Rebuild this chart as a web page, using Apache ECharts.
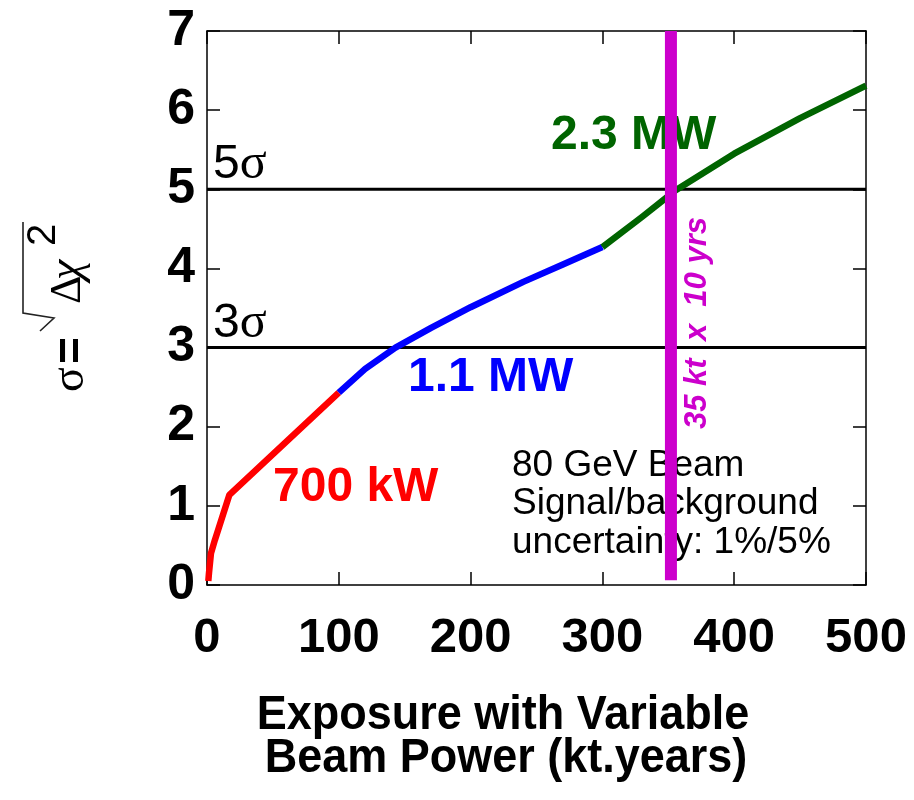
<!DOCTYPE html>
<html>
<head>
<meta charset="utf-8">
<title>Significance vs exposure</title>
<script src="https://cdn.jsdelivr.net/npm/echarts@6/dist/echarts.min.js"></script>
<style>
  html, body { margin: 0; padding: 0; background: #ffffff; }
  #chart { width: 914px; height: 800px; }
</style>
</head>
<body>
<div id="chart"></div>
<script>
// Exposure (kt.years) and significance for each beam-power stage
const redX   = [1, 1.5, 3, 6, 17, 100];
const redY   = [0.05, 0.15, 0.40, 0.57, 1.14, 2.43];
const blueX  = [100, 120, 143, 170, 200, 240, 270, 300];
const blueY  = [2.43, 2.73, 3.0, 3.25, 3.51, 3.83, 4.05, 4.27];
const greenX = [300, 330, 355, 400, 450, 500];
const greenY = [4.27, 4.65, 4.98, 5.45, 5.9, 6.31];

// Reference significance levels and the 35 kt x 10 yr exposure
const sigmaLevels = [5, 3];
const exposureMark = 352;
const exposureRange = [0.06, 7];

// Axis ticks
const xTicks = { min: 0, max: 500, step: 100 };
const yTicks = { min: 0, max: 7, step: 1 };

const SANS = '"Liberation Sans", Arial, Helvetica, sans-serif';
const SERIF = '"Liberation Serif", "Times New Roman", serif';

const zip = (xs, ys) => xs.map((x, i) => [x, ys[i]]);

const chart = echarts.init(document.getElementById('chart'), null, { renderer: 'canvas' });

const axisLineStyle = { color: '#000', width: 1.5 };

function frameAxis(position, ticks, labelOpts) {
  return {
    type: 'value', position: position,
    min: ticks.min, max: ticks.max, interval: ticks.step,
    axisLine: { show: true, onZero: false, lineStyle: axisLineStyle },
    axisTick: { show: true, inside: true, length: 13, lineStyle: axisLineStyle },
    axisLabel: labelOpts || { show: false },
    splitLine: { show: false }
  };
}

const option = {
  animation: false,
  backgroundColor: '#ffffff',
  grid: { left: 207, right: 48, top: 31, bottom: 215, containLabel: false },
  xAxis: [
    frameAxis('bottom', xTicks, { show: true, margin: 29, color: '#000', fontFamily: SANS, fontWeight: 'bold', fontSize: 49 }),
    frameAxis('top', xTicks)
  ],
  yAxis: [
    frameAxis('left', yTicks, { show: true, margin: 12, color: '#000', fontFamily: SANS, fontWeight: 'bold', fontSize: 50 }),
    frameAxis('right', yTicks)
  ],
  series: [
    ...sigmaLevels.map(level => ({
      type: 'line', name: level + 'σ',
      data: [[xTicks.min, level], [xTicks.max, level]],
      symbol: 'none', silent: true, z: 3,
      lineStyle: { color: '#000', width: 3 }
    })),
    {
      type: 'line', name: '700 kW', data: zip(redX, redY),
      symbol: 'none', z: 4,
      lineStyle: { color: '#ff0000', width: 6.5, join: 'round' }
    },
    {
      type: 'line', name: '1.1 MW', data: zip(blueX, blueY),
      symbol: 'none', z: 4,
      lineStyle: { color: '#0000ff', width: 6.5, join: 'round' }
    },
    {
      type: 'line', name: '2.3 MW', data: zip(greenX, greenY),
      symbol: 'none', z: 4,
      lineStyle: { color: '#006400', width: 6.5, join: 'round' }
    },
    {
      type: 'line', name: '35 kt x 10 yrs',
      data: exposureRange.map(y => [exposureMark, y]),
      symbol: 'none', z: 10,
      lineStyle: { color: '#cc00cc', width: 12 }
    }
  ],
  graphic: [
    // significance level tags
    {
      type: 'text', x: 213, y: 165, z: 1,
      style: {
        text: '{a|5}{b|σ}', verticalAlign: 'middle', align: 'left',
        rich: {
          a: { fontFamily: SANS, fontSize: 48, fill: '#000' },
          b: { fontFamily: SERIF, fontSize: 50, fill: '#000' }
        }
      }
    },
    {
      type: 'text', x: 213, y: 324, z: 1,
      style: {
        text: '{a|3}{b|σ}', verticalAlign: 'middle', align: 'left',
        rich: {
          a: { fontFamily: SANS, fontSize: 48, fill: '#000' },
          b: { fontFamily: SERIF, fontSize: 50, fill: '#000' }
        }
      }
    },
    // beam-power stage labels
    {
      type: 'text', x: 273, y: 488, z: 1,
      style: { text: '700 kW', fill: '#ff0000', fontFamily: SANS, fontWeight: 'bold', fontSize: 48, align: 'left', verticalAlign: 'middle' }
    },
    {
      type: 'text', x: 408, y: 378, z: 1,
      style: { text: '1.1 MW', fill: '#0000ff', fontFamily: SANS, fontWeight: 'bold', fontSize: 48, align: 'left', verticalAlign: 'middle' }
    },
    {
      type: 'text', x: 551, y: 136, z: 1,
      style: { text: '2.3 MW', fill: '#006400', fontFamily: SANS, fontWeight: 'bold', fontSize: 48, align: 'left', verticalAlign: 'middle' }
    },
    // exposure marker caption
    {
      type: 'text', x: 697, y: 323, rotation: Math.PI / 2, z: 1,
      style: {
        text: '35 kt  x  10 yrs', fill: '#cc00cc', fontFamily: SANS,
        fontWeight: 'bold', fontStyle: 'italic', fontSize: 31,
        align: 'center', verticalAlign: 'middle'
      }
    },
    // analysis conditions
    {
      type: 'text', x: 512, y: 504, z: 1,
      style: {
        text: '80 GeV Beam\nSignal/background\nuncertainty: 1%/5%',
        fill: '#000', fontFamily: SANS, fontSize: 37, lineHeight: 38.5,
        align: 'left', verticalAlign: 'middle'
      }
    },
    // x-axis title
    {
      type: 'text', x: 503, y: 716, z: 1, scaleY: 1.08,
      style: { text: 'Exposure with Variable', fill: '#000', fontFamily: SANS, fontWeight: 'bold', fontSize: 45, align: 'center', verticalAlign: 'middle' }
    },
    {
      type: 'text', x: 506, y: 759, z: 1, scaleY: 1.08,
      style: { text: 'Beam Power (kt.years)', fill: '#000', fontFamily: SANS, fontWeight: 'bold', fontSize: 45, align: 'center', verticalAlign: 'middle' }
    },
    // y-axis title: sigma = sqrt(delta chi^2), read bottom to top
    {
      type: 'group', x: 85, y: 392, rotation: Math.PI / 2, z: 1,
      children: [
        { type: 'text', x: 0, y: -14, style: { text: 'σ', fill: '#000', fontFamily: SERIF, fontSize: 46, align: 'left', verticalAlign: 'middle' } },
        { type: 'text', x: 28, y: -13, style: { text: '=', fill: '#000', fontFamily: SANS, fontWeight: 'bold', fontSize: 46, align: 'left', verticalAlign: 'middle' } },
        {
          type: 'polyline',
          shape: { points: [[61, -45], [74, -31], [79, -62], [170, -62]] },
          style: { stroke: '#222', lineWidth: 1.6, fill: null }
        },
        { type: 'text', x: 88, y: -17, style: { text: 'Δ', fill: '#000', fontFamily: SERIF, fontSize: 44, align: 'left', verticalAlign: 'middle' } },
        { type: 'text', x: 112, y: -17, style: { text: 'χ', fill: '#000', fontFamily: SERIF, fontStyle: 'italic', fontSize: 46, align: 'left', verticalAlign: 'middle' } },
        { type: 'text', x: 146, y: -41, style: { text: '2', fill: '#000', fontFamily: SANS, fontSize: 40, align: 'left', verticalAlign: 'middle' } }
      ]
    }
  ]
};

chart.setOption(option);
</script>
</body>
</html>
